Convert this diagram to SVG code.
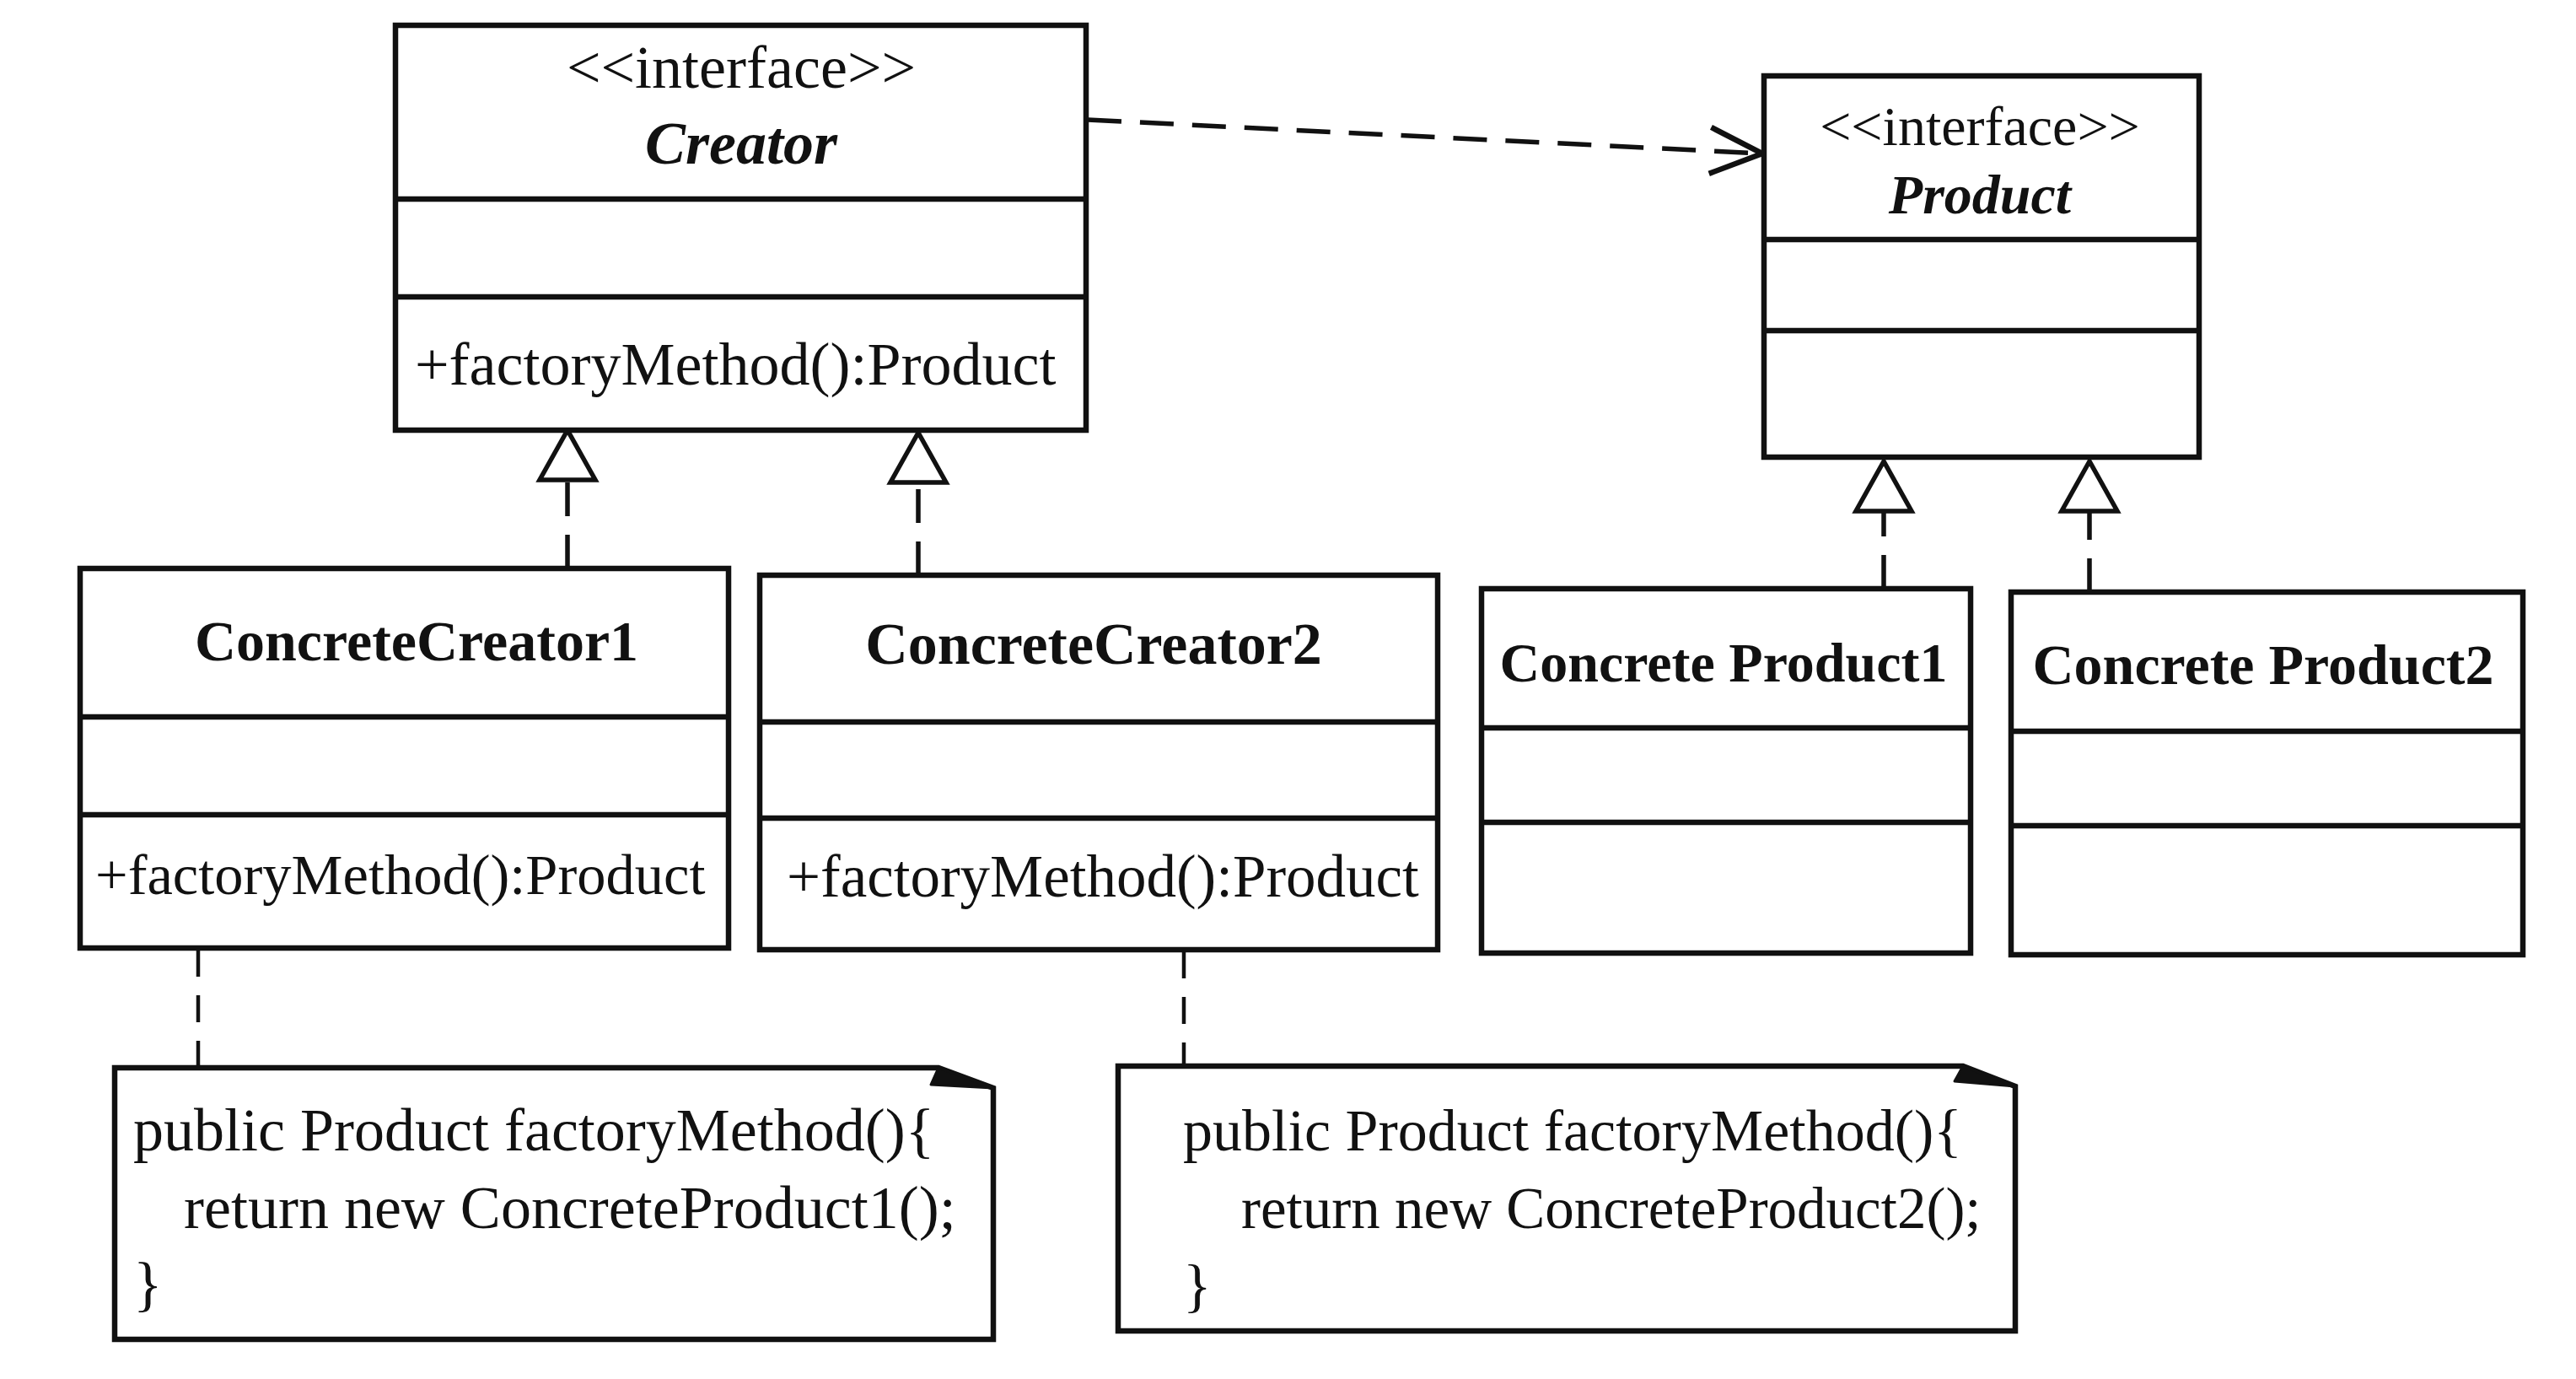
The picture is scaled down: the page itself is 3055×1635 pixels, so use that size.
<svg xmlns="http://www.w3.org/2000/svg" width="3055" height="1635" viewBox="0 0 3055 1635">
<style>
.box{fill:#fff;stroke:#111;stroke-width:6.5}
.div{stroke:#111;stroke-width:6.5}
.t{font-family:"Liberation Serif","Times New Roman",serif;fill:#111}
.b{font-weight:bold}
.bi{font-weight:bold;font-style:italic}
.c{text-anchor:middle}
.dash{stroke:#111;stroke-width:5.5;fill:none;stroke-dasharray:40 22}
.ndash{stroke:#111;stroke-width:4.5;fill:none;stroke-dasharray:32 22}
</style>
<defs>
<marker id="open" markerUnits="userSpaceOnUse" markerWidth="80" markerHeight="80" refX="0" refY="0" viewBox="-70 -40 80 80" orient="auto" overflow="visible">
<path d="M-62,-28 L0,0 L-62,27" fill="none" stroke="#111" stroke-width="6.5"/>
</marker>
<marker id="tri" markerUnits="userSpaceOnUse" markerWidth="80" markerHeight="80" refX="0" refY="0" viewBox="-70 -40 80 80" orient="auto" overflow="visible">
<path d="M0,0 L-59,-33 L-59,33 Z" fill="#fff" stroke="#111" stroke-width="5.5"/>
</marker>
</defs>
<rect width="3055" height="1635" fill="#fff"/>

<g id="connectors">
<path class="dash" d="M1290,142 L2090,182" stroke-dasharray="34 23" marker-end="url(#open)"/>
<path class="dash" d="M673,674 L673,510" marker-end="url(#tri)"/>
<path class="dash" d="M1089,682 L1089,513" marker-end="url(#tri)"/>
<path class="dash" d="M2234,698 L2234,547" marker-end="url(#tri)"/>
<path class="dash" d="M2478,702 L2478,547" marker-end="url(#tri)"/>
<path class="ndash" d="M235,1126 L235,1266"/>
<path class="ndash" d="M1404,1128 L1404,1264"/>
</g>

<g id="creator">
<rect class="box" x="469" y="30" width="819" height="480"/>
<line class="div" x1="469" y1="236" x2="1288" y2="236"/>
<line class="div" x1="469" y1="352" x2="1288" y2="352"/>
<text class="t c" x="879" y="104" font-size="72">&lt;&lt;interface&gt;&gt;</text>
<text class="t c bi" x="879" y="194" font-size="72">Creator</text>
<text class="t" x="492" y="456" font-size="72">+factoryMethod():Product</text>
</g>

<g id="product">
<rect class="box" x="2092" y="90" width="516" height="452"/>
<line class="div" x1="2092" y1="284" x2="2608" y2="284"/>
<line class="div" x1="2092" y1="392" x2="2608" y2="392"/>
<text class="t c" x="2348" y="172" font-size="66">&lt;&lt;interface&gt;&gt;</text>
<text class="t c bi" x="2348" y="253" font-size="66">Product</text>
</g>

<g id="concreteCreator1">
<rect class="box" x="95" y="674" width="769" height="450"/>
<line class="div" x1="95" y1="850" x2="864" y2="850"/>
<line class="div" x1="95" y1="966" x2="864" y2="966"/>
<text class="t c b" x="494" y="783" font-size="68">ConcreteCreator1</text>
<text class="t" x="113" y="1060" font-size="68.5">+factoryMethod():Product</text>
</g>

<g id="concreteCreator2">
<rect class="box" x="901" y="682" width="804" height="444"/>
<line class="div" x1="901" y1="856" x2="1705" y2="856"/>
<line class="div" x1="901" y1="970" x2="1705" y2="970"/>
<text class="t c b" x="1297" y="787" font-size="70">ConcreteCreator2</text>
<text class="t" x="933" y="1063" font-size="71">+factoryMethod():Product</text>
</g>

<g id="concreteProduct1">
<rect class="box" x="1757" y="698" width="580" height="432"/>
<line class="div" x1="1757" y1="863" x2="2337" y2="863"/>
<line class="div" x1="1757" y1="975" x2="2337" y2="975"/>
<text class="t c b" x="2044" y="808" font-size="66">Concrete Product1</text>
</g>

<g id="concreteProduct2">
<rect class="box" x="2385" y="702" width="607" height="430"/>
<line class="div" x1="2385" y1="867" x2="2992" y2="867"/>
<line class="div" x1="2385" y1="979" x2="2992" y2="979"/>
<text class="t c b" x="2684" y="811" font-size="68">Concrete Product2</text>
</g>

<g id="note1">
<path class="box" d="M136,1266 L1113,1266 L1178,1290 L1178,1588 L136,1588 Z"/>
<path d="M1113,1266 L1178,1290 L1104,1286 Z" fill="#111" stroke="#111" stroke-width="3" stroke-linejoin="round"/>
<text class="t" x="158" y="1364" font-size="72">public Product factoryMethod(){</text>
<text class="t" x="218" y="1456" font-size="72">return new ConcreteProduct1();</text>
<text class="t" x="158" y="1546" font-size="72">}</text>
</g>

<g id="note2">
<path class="box" d="M1326,1264 L2328,1264 L2390,1288 L2390,1578 L1326,1578 Z"/>
<path d="M2328,1264 L2390,1288 L2318,1282 Z" fill="#111" stroke="#111" stroke-width="3" stroke-linejoin="round"/>
<text class="t" x="1403" y="1364" font-size="70">public Product factoryMethod(){</text>
<text class="t" x="1472" y="1456" font-size="69">return new ConcreteProduct2();</text>
<text class="t" x="1403" y="1548" font-size="70">}</text>
</g>
</svg>
